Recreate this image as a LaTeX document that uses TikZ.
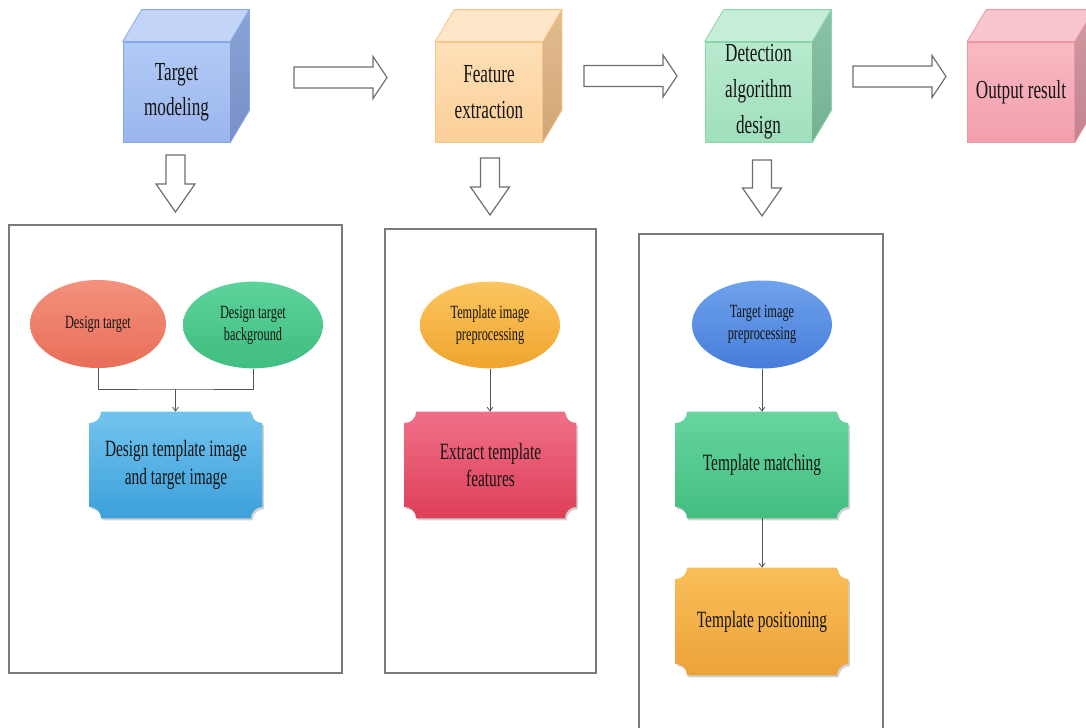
\documentclass[tikz,border=0pt]{standalone}
\usepackage{fontspec}
\setmainfont[FakeStretch=0.66]{Liberation Serif}
\usetikzlibrary{shapes.geometric,arrows.meta,calc,backgrounds}

\definecolor{txt}{HTML}{151515}
\definecolor{panelgray}{HTML}{7A7A7A}
\definecolor{arrgray}{HTML}{6E6E6E}
\definecolor{conngray}{HTML}{555555}
% cube colours
\definecolor{bA}{HTML}{B2CAF5}\definecolor{bB}{HTML}{9BB6EE}\definecolor{bT}{HTML}{C2D4F7}\definecolor{bS}{HTML}{8AA3D6}\definecolor{bS2}{HTML}{7890C6}\definecolor{bE}{HTML}{86A9EA}
\definecolor{oA}{HTML}{FEE0B8}\definecolor{oB}{HTML}{FCCF98}\definecolor{oT}{HTML}{FEE6C8}\definecolor{oS}{HTML}{E2BC8E}\definecolor{oS2}{HTML}{D2A676}\definecolor{oE}{HTML}{F8C68A}
\definecolor{gA}{HTML}{B8EACE}\definecolor{gB}{HTML}{A0DFBC}\definecolor{gT}{HTML}{C6EDD8}\definecolor{gS}{HTML}{8CC3A6}\definecolor{gS2}{HTML}{76B092}\definecolor{gE}{HTML}{8AD6AC}
\definecolor{pA}{HTML}{F8B9C3}\definecolor{pB}{HTML}{F39FAC}\definecolor{pT}{HTML}{F9C6CE}\definecolor{pS}{HTML}{D29AA2}\definecolor{pS2}{HTML}{C0848E}\definecolor{pE}{HTML}{EE96A4}
% ellipses
\definecolor{e1A}{HTML}{F4917C}\definecolor{e1B}{HTML}{E86E58}
\definecolor{e2A}{HTML}{5CD39B}\definecolor{e2B}{HTML}{40BD80}
\definecolor{e3A}{HTML}{FCC560}\definecolor{e3B}{HTML}{EFA52E}
\definecolor{e4A}{HTML}{6EA2EC}\definecolor{e4B}{HTML}{477DDA}
% plaques
\definecolor{r1A}{HTML}{72C4EE}\definecolor{r1B}{HTML}{3CA0DA}
\definecolor{r2A}{HTML}{F07088}\definecolor{r2B}{HTML}{DE3E58}
\definecolor{r3A}{HTML}{66D59E}\definecolor{r3B}{HTML}{43BE80}
\definecolor{r4A}{HTML}{FABE58}\definecolor{r4B}{HTML}{ECA23A}

\tikzset{
  every node/.style={inner sep=0pt, text=txt},
  cubefront/.style={rectangle, line width=0.6pt, align=center,
    minimum width=80.25pt, minimum height=75pt,
    font=\fontsize{19.5pt}{26.5pt}\selectfont},
  oval/.style={ellipse, align=center, font=\fontsize{14pt}{16.5pt}\selectfont},
  plaquetext/.style={rectangle, align=center, font=\fontsize{17.5pt}{20.5pt}\selectfont},
  panel/.style={draw=panelgray, line width=0.8pt},
  blockarrow/.style={draw=arrgray, fill=white, line width=0.9pt, line join=miter},
  conn/.style={draw=conngray, line width=0.6pt},
  connarrow/.style={-{Straight Barb[length=3pt,width=4.5pt]}},
}

% top and side faces of a cube whose front face is node #1
\newcommand\cubefaces[5]{%
  \filldraw[fill=#2, draw=#5, line width=0.6pt, line join=round]
    (#1.north west) -- ++(14.25pt,24pt) -- ($(#1.north east)+(14.25pt,24pt)$) -- (#1.north east) -- cycle;
  \path[top color=#3, bottom color=#4]
    (#1.north east) -- ++(14.25pt,24pt) -- ($(#1.south east)+(14.25pt,24pt)$) -- (#1.south east) -- cycle;
  \draw[draw=#5, line width=0.6pt, line join=round]
    (#1.north east) -- ++(14.25pt,24pt) -- ($(#1.south east)+(14.25pt,24pt)$) -- (#1.south east);
}
% plaque (concave corners) behind node #1
\newcommand\plaquepath[2]{%
  \path[#2] let \p1=(#1.north west), \p2=(#1.south east) in
    (\x1+8.5pt,\y1) -- (\x2-8.5pt,\y1)
    .. controls (\x2-8.5pt,\y1-4.7pt) and (\x2-4.7pt,\y1-8.5pt) .. (\x2,\y1-8.5pt)
    -- (\x2,\y2+8.5pt)
    .. controls (\x2-4.7pt,\y2+8.5pt) and (\x2-8.5pt,\y2+4.7pt) .. (\x2-8.5pt,\y2)
    -- (\x1+8.5pt,\y2)
    .. controls (\x1+8.5pt,\y2+4.7pt) and (\x1+4.7pt,\y2+8.5pt) .. (\x1,\y2+8.5pt)
    -- (\x1,\y1-8.5pt)
    .. controls (\x1+4.7pt,\y1-8.5pt) and (\x1+8.5pt,\y1-4.7pt) .. cycle;
}
\newcommand\plaque[3]{%
  \begin{scope}[on background layer]
    \plaquepath{#1}{fill=black!18, transform canvas={shift={(1.2pt,-1.6pt)}}}
    \plaquepath{#1}{top color=#2, bottom color=#3}
  \end{scope}
}
% right block arrow: x0, x1, yc
\newcommand\rblock[3]{%
  \draw[blockarrow] ({#1},{#3-10.5}) -- ({#2-14},{#3-10.5}) -- ({#2-14},{#3-21}) -- ({#2},{#3})
    -- ({#2-14},{#3+21}) -- ({#2-14},{#3+10.5}) -- ({#1},{#3+10.5}) -- cycle;
}
% down block arrow: xc, y0, y1
\newcommand\dblock[3]{%
  \draw[blockarrow] ({#1-9.5},{#2}) -- ({#1+9.5},{#2}) -- ({#1+9.5},{#3-28}) -- ({#1+19.5},{#3-28})
    -- ({#1},{#3}) -- ({#1-19.5},{#3-28}) -- ({#1-9.5},{#3-28}) -- cycle;
}

\begin{document}
\begin{tikzpicture}[x=0.75pt, y=-0.75pt]
\useasboundingbox (0,0) rectangle (1086,728);

% ---------- cubes ----------
\node[cubefront, top color=bA, bottom color=bB, draw=bE] (c1) at (176.5,92) {Target\\modeling};
\cubefaces{c1}{bT}{bS}{bS2}{bE}
\node[cubefront, top color=oA, bottom color=oB, draw=oE] (c2) at (489,92) {Feature\\extraction};
\cubefaces{c2}{oT}{oS}{oS2}{oE}
\node[cubefront, top color=gA, bottom color=gB, draw=gE, font=\fontsize{19.5pt}{27pt}\selectfont] (c3) at (758.5,92) {Detection\\algorithm\\design};
\cubefaces{c3}{gT}{gS}{gS2}{gE}
\node[cubefront, top color=pA, bottom color=pB, draw=pE] (c4) at (1021,92) {Output result};
\cubefaces{c4}{pT}{pS}{pS2}{pE}

% ---------- block arrows ----------
\rblock{294}{387}{77.5}
\rblock{584}{677}{76}
\rblock{853}{946}{76.5}
\dblock{175.5}{155}{212}
\dblock{490}{158}{215}
\dblock{762}{160}{216}

% ---------- panels ----------
\draw[panel] (9,225) rectangle (342,673);
\draw[panel] (385,229) rectangle (596,673);
\draw[panel] (639,740) -- (639,234) -- (883,234) -- (883,740);

% ---------- panel 1 ----------
\node[oval, minimum width=102pt, minimum height=66pt, top color=e1A, bottom color=e1B] (dt) at (98,324) {Design target};
\node[oval, minimum width=105pt, minimum height=65pt, top color=e2A, bottom color=e2B] (dtb) at (253,325) {Design target\\background};
\node[plaquetext, minimum width=129pt, minimum height=79.5pt] (dti) at (176,465) {Design template image\\and target image};
\plaque{dti}{r1A}{r1B}
\coordinate (j1) at (175.5,389);
\draw[conn] (dt.south) |- (j1) -| (dtb.south);
\draw[conn, connarrow] (j1) -- (j1 |- dti.north);

% ---------- panel 2 ----------
\node[oval, minimum width=105pt, minimum height=65pt, top color=e3A, bottom color=e3B] (tip) at (490,325) {Template image\\preprocessing};
\node[plaquetext, minimum width=128.25pt, minimum height=79.5pt] (etf) at (490.5,465) {Extract template\\features};
\plaque{etf}{r2A}{r2B}
\draw[conn, connarrow] (tip.south) -- (tip.south |- etf.north);

% ---------- panel 3 ----------
\node[oval, minimum width=105pt, minimum height=66pt, top color=e4A, bottom color=e4B] (tgp) at (762,324.5) {Target image\\preprocessing};
\node[plaquetext, minimum width=129pt, minimum height=79.5pt] (tm) at (762,465) {Template matching};
\plaque{tm}{r3A}{r3B}
\node[plaquetext, minimum width=129pt, minimum height=80.25pt] (tp) at (762,621.5) {Template positioning};
\plaque{tp}{r4A}{r4B}
\draw[conn, connarrow] (tgp.south) -- (tgp.south |- tm.north);
\draw[conn, connarrow] (tm.south) -- (tm.south |- tp.north);

\end{tikzpicture}
\end{document}
